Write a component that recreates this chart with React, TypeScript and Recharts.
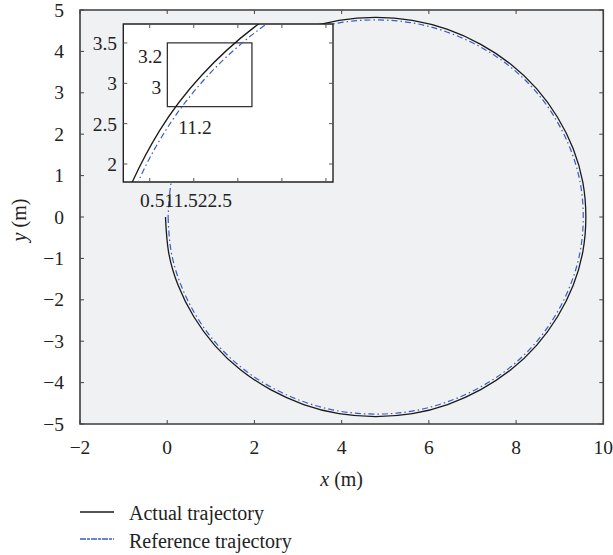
import React from "react";
import {
  LineChart,
  Line,
  XAxis,
  YAxis,
  CartesianGrid,
  ReferenceArea,
} from "recharts";

// values (m)
const actualX = [-0.04, 0.03, 0.25, 0.61, 1.09, 1.68, 2.37, 3.13, 3.94, 4.78, 5.62, 6.43, 7.19, 7.88, 8.47, 8.95, 9.31, 9.53, 9.6, 9.53, 9.31, 8.95, 8.47, 7.88, 7.19, 6.43, 5.62, 4.78, 3.94, 3.13, 2.37, 1.68, 1.09, 0.61, 0.25, 0.12];
const actualY = [0, -0.84, -1.65, -2.41, -3.1, -3.69, -4.17, -4.53, -4.75, -4.82, -4.75, -4.53, -4.17, -3.69, -3.1, -2.41, -1.65, -0.84, 0, 0.84, 1.65, 2.41, 3.1, 3.69, 4.17, 4.53, 4.75, 4.82, 4.75, 4.53, 4.17, 3.69, 3.1, 2.41, 1.65, 1.25];

const referenceX = [0.02, 0.09, 0.31, 0.66, 1.13, 1.72, 2.4, 3.15, 3.95, 4.78, 5.61, 6.41, 7.16, 7.84, 8.43, 8.9, 9.25, 9.47, 9.54, 9.47, 9.25, 8.9, 8.43, 7.84, 7.16, 6.41, 5.61, 4.78, 3.95, 3.15, 2.4, 1.72, 1.13, 0.66, 0.31, 0.09, 0.02];
const referenceY = [0, -0.83, -1.63, -2.38, -3.06, -3.65, -4.12, -4.47, -4.69, -4.76, -4.69, -4.47, -4.12, -3.65, -3.06, -2.38, -1.63, -0.83, 0, 0.83, 1.63, 2.38, 3.06, 3.65, 4.12, 4.47, 4.69, 4.76, 4.69, 4.47, 4.12, 3.65, 3.06, 2.38, 1.63, 0.83, 0];

const xTicks = [-2, 0, 2, 4, 6, 8, 10];
const yTicks = [-5, -4, -3, -2, -1, 0, 1, 2, 3, 4, 5];

const insetXDomain = [0.2, 2.58];
const insetYDomain = [1.777, 3.735];
const insetXTicks = [0.5, 1, 1.5, 2, 2.5];
const insetYTicks = [2, 2.5, 3, 3.5];
const insetXLabel = "0.511.522.5";
const zoomBox = { x1: 0.7, x2: 1.66, y1: 2.71, y2: 3.5 };
const zoomLabels = ["3.2", "3", "11.2"];

const seriesNames = ["Actual trajectory", "Reference trajectory"];

const actualData = actualX.map((x, i) => ({ x, y: actualY[i] }));
const referenceData = referenceX.map((x, i) => ({ x, y: referenceY[i] }));

const FONT = "'Liberation Serif', 'DejaVu Serif', serif";
const TEXT = "#222";
const BLACK = "#1a1a1a";
const BLUE = "#3b5cc4";
const DASH = "6 3 1.5 3";

// main plot box
const PL = 80;
const PT = 10;
const PR = 603.3;
const PB = 424;

// inset chart box (page coords)
const IN_LEFT = 80;
const IN_TOP = 14;
const IN_W = 260;
const IN_H = 200;
const IPL = 43.3;
const IPT = 10;
const IPR = 253;
const IPB = 168;

const fmt = (v: number) => (v < 0 ? "\u2212" + Math.abs(v) : String(v));

const MainXTick = (props: any) => {
  const { x, payload } = props;
  return (
    <g>
      <line x1={x} x2={x} y1={PB} y2={PB - 4} stroke="#444" />
      <line x1={x} x2={x} y1={PT} y2={PT + 4} stroke="#444" />
      <text x={x} y={453.5} textAnchor="middle" fontSize={19.5} fontFamily={FONT} fill={TEXT}>
        {fmt(payload.value)}
      </text>
    </g>
  );
};

const MainYTick = (props: any) => {
  const { y, payload } = props;
  return (
    <g>
      <line x1={PL} x2={PL + 4} y1={y} y2={y} stroke="#444" />
      <line x1={PR} x2={PR - 4} y1={y} y2={y} stroke="#444" />
      <text x={64} y={y + 6.5} textAnchor="end" fontSize={19.5} fontFamily={FONT} fill={TEXT}>
        {fmt(payload.value)}
      </text>
    </g>
  );
};

const InsetXTick = (props: any) => {
  const { x } = props;
  return (
    <g>
      <line x1={x} x2={x} y1={IPB} y2={IPB - 4} stroke="#555" />
      <line x1={x} x2={x} y1={IPT} y2={IPT + 4} stroke="#555" />
    </g>
  );
};

const InsetYTick = (props: any) => {
  const { y, payload } = props;
  return (
    <g>
      <line x1={IPL} x2={IPL + 4} y1={y} y2={y} stroke="#555" />
      <line x1={IPR} x2={IPR - 4} y1={y} y2={y} stroke="#555" />
      <text x={37} y={y + 7} textAnchor="end" fontSize={19.5} fontFamily={FONT} fill={TEXT}>
        {payload.value}
      </text>
    </g>
  );
};

const ZoomBoxLabel = (props: any) => {
  const { x, y, height } = props.viewBox;
  return (
    <g fontSize={19.5} fontFamily={FONT} fill={TEXT}>
      <text x={x - 5} y={y + 20} textAnchor="end">{zoomLabels[0]}</text>
      <text x={x - 6} y={y + 51} textAnchor="end">{zoomLabels[1]}</text>
      <text x={x + 11} y={y + height + 27}>{zoomLabels[2]}</text>
    </g>
  );
};

export default function App() {
  return (
    <div
      style={{
        position: "absolute",
        left: 0,
        top: 0,
        width: 613,
        height: 555,
        background: "#fff",
        fontFamily: FONT,
      }}
    >
      <LineChart width={613} height={500} margin={{ top: PT, right: 613 - PR, bottom: 0, left: 0 }}>
        <CartesianGrid fill="#f0f1f3" horizontal={false} vertical={false} />
        <XAxis
          type="number"
          dataKey="x"
          domain={[-2, 10]}
          ticks={xTicks}
          interval={0}
          height={76}
          axisLine={false}
          tickLine={false}
          tick={MainXTick}
          label={() => (
            <text x={(PL + PR) / 2} y={486} textAnchor="middle" fontSize={20} fontFamily={FONT} fill={TEXT}>
              <tspan fontStyle="italic">x</tspan>
              <tspan dx={5}>(m)</tspan>
            </text>
          )}
        />
        <YAxis
          type="number"
          dataKey="y"
          domain={[-5, 5]}
          ticks={yTicks}
          interval={0}
          width={PL}
          axisLine={false}
          tickLine={false}
          tick={MainYTick}
          label={() => (
            <text
              x={26}
              y={220}
              textAnchor="middle"
              fontSize={20}
              fontFamily={FONT}
              fill={TEXT}
              transform="rotate(-90 26 220)"
            >
              <tspan fontStyle="italic">y</tspan>
              <tspan dx={5}>(m)</tspan>
            </text>
          )}
        />
        <ReferenceArea
          x1={-2}
          x2={10}
          y1={-5}
          y2={5}
          fill="none"
          stroke="#3d3d3d"
          strokeWidth={1.6}
          ifOverflow="visible"
        />
        <Line
          data={referenceData}
          dataKey="y"
          type="natural"
          stroke={BLUE}
          strokeWidth={1.2}
          strokeDasharray={DASH}
          dot={false}
          isAnimationActive={false}
        />
        <Line
          data={actualData}
          dataKey="y"
          type="natural"
          stroke={BLACK}
          strokeWidth={1.3}
          dot={false}
          isAnimationActive={false}
        />
      </LineChart>

      <div style={{ position: "absolute", left: IN_LEFT, top: IN_TOP }}>
        <LineChart
          width={IN_W}
          height={IN_H}
          margin={{ top: IPT, right: IN_W - IPR, bottom: 0, left: 0 }}
        >
          <CartesianGrid fill="#ffffff" horizontal={false} vertical={false} />
          <XAxis
            type="number"
            dataKey="x"
            domain={insetXDomain}
            allowDataOverflow
            ticks={insetXTicks}
            interval={0}
            height={IN_H - IPB}
            axisLine={false}
            tickLine={false}
            tick={InsetXTick}
            label={() => (
              <text x={60} y={193} fontSize={19.5} fontFamily={FONT} fill={TEXT}>
                {insetXLabel}
              </text>
            )}
          />
          <YAxis
            type="number"
            dataKey="y"
            domain={insetYDomain}
            allowDataOverflow
            ticks={insetYTicks}
            interval={0}
            width={IPL}
            axisLine={false}
            tickLine={false}
            tick={InsetYTick}
          />
          <ReferenceArea
            x1={insetXDomain[0]}
            x2={insetXDomain[1]}
            y1={insetYDomain[0]}
            y2={insetYDomain[1]}
            fill="none"
            stroke="#222"
            strokeWidth={1.4}
            ifOverflow="visible"
          />
          <ReferenceArea
            x1={zoomBox.x1}
            x2={zoomBox.x2}
            y1={zoomBox.y1}
            y2={zoomBox.y2}
            fill="none"
            stroke="#333"
            strokeWidth={1.3}
            ifOverflow="visible"
            label={ZoomBoxLabel}
          />
          <Line
            data={referenceData}
            dataKey="y"
            type="natural"
            stroke={BLUE}
            strokeWidth={1.2}
            strokeDasharray={DASH}
            dot={false}
            isAnimationActive={false}
          />
          <Line
            data={actualData}
            dataKey="y"
            type="natural"
            stroke={BLACK}
            strokeWidth={1.3}
            dot={false}
            isAnimationActive={false}
          />
        </LineChart>
      </div>

      {seriesNames.map((name, i) => (
        <React.Fragment key={name}>
          <svg
            width={34}
            height={4}
            style={{ position: "absolute", left: 80, top: 510 + i * 27 }}
          >
            <line
              x1={0}
              x2={34}
              y1={2}
              y2={2}
              stroke={i === 0 ? BLACK : BLUE}
              strokeWidth={1.3}
              strokeDasharray={i === 0 ? undefined : "6 1 3 1"}
            />
          </svg>
          <span
            style={{
              position: "absolute",
              left: 129,
              top: 502 + i * 27.5,
              fontSize: 20,
              lineHeight: "22px",
              color: TEXT,
              whiteSpace: "nowrap",
            }}
          >
            {name}
          </span>
        </React.Fragment>
      ))}
    </div>
  );
}
